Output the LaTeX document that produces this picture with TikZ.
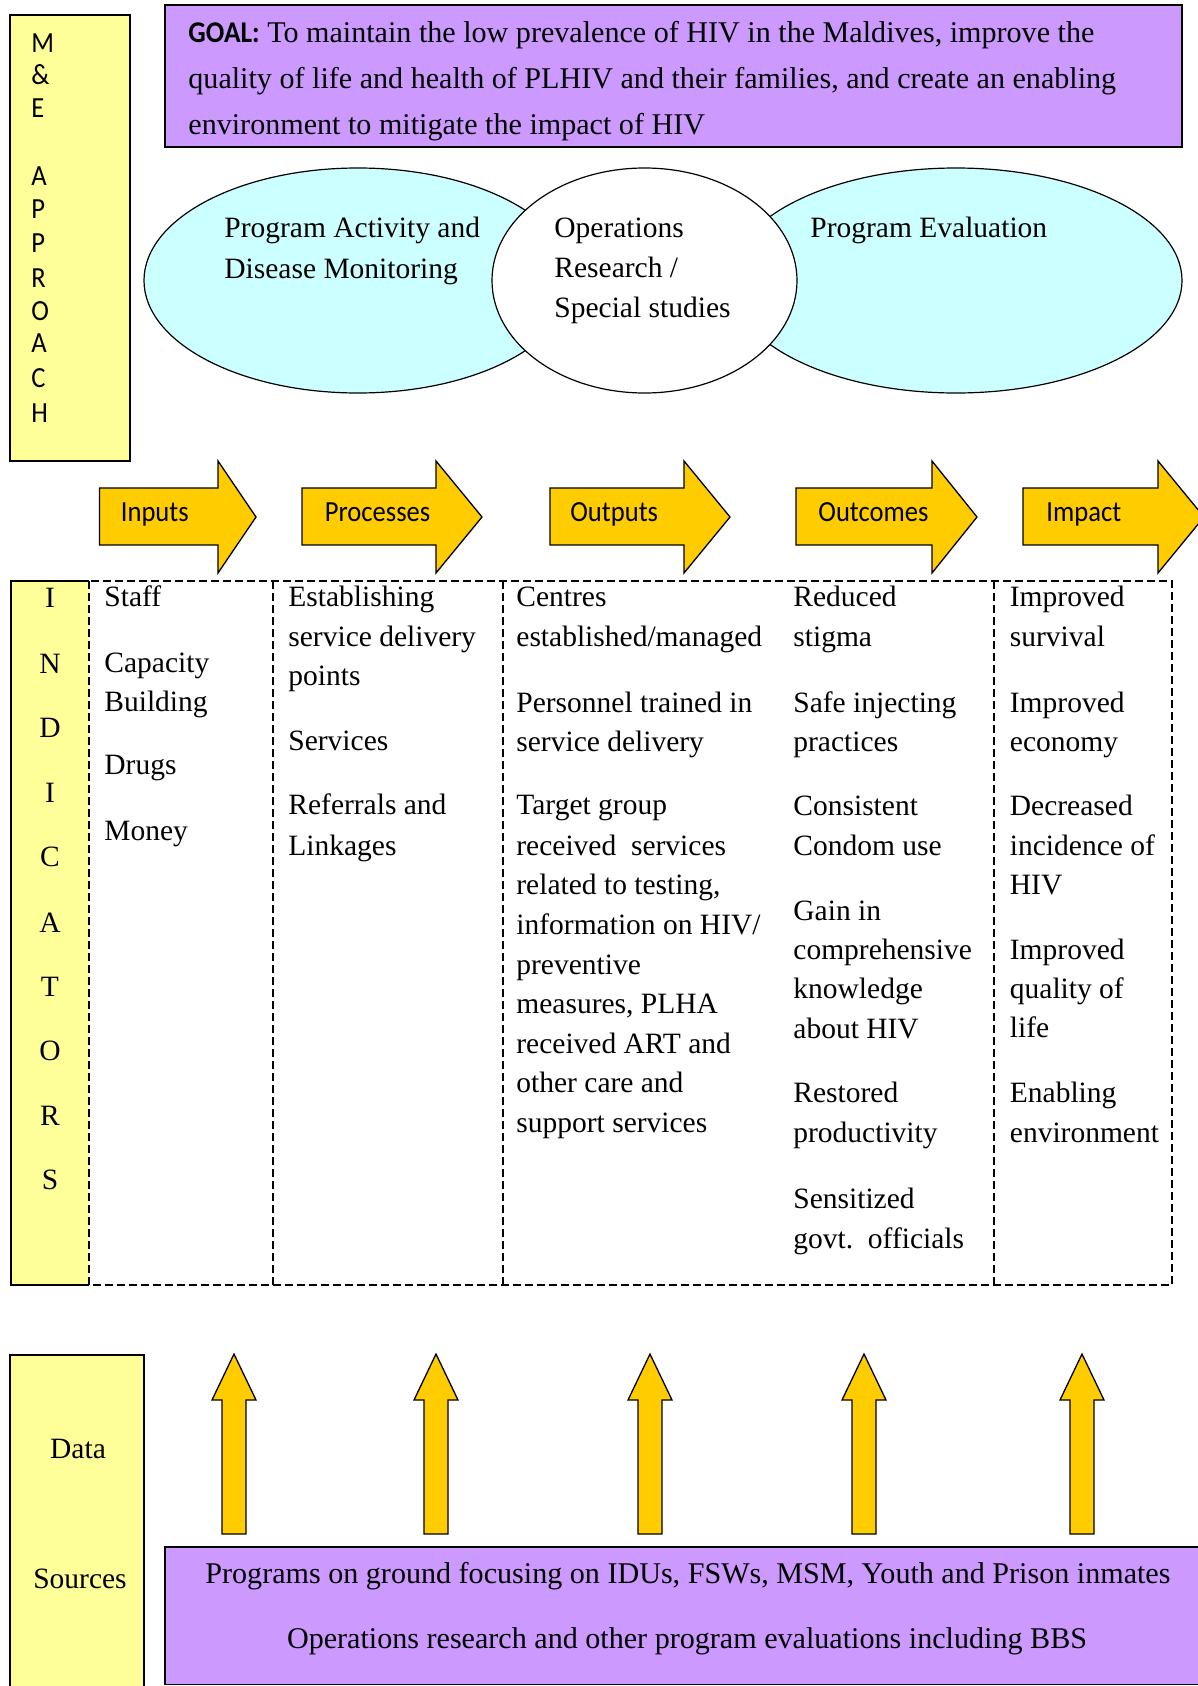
\documentclass[tikz,border=0pt]{standalone}
\usepackage{fontspec}
\setmainfont{Liberation Serif}
\newfontfamily\calib[FakeStretch=0.91]{Carlito}
\definecolor{goalpurple}{HTML}{CC99FF}
\definecolor{ellcyan}{HTML}{CCFFFF}
\definecolor{paleyellow}{HTML}{FFFF99}
\definecolor{arrowgold}{HTML}{FFCC00}
\tikzset{
  serif/.style={font=\fontsize{14.75}{18}\selectfont, inner sep=0pt},
  txt/.style={serif, anchor=base west},
  ctxt/.style={serif, anchor=base},
  widetxt/.style={font=\fontsize{15.05}{18}\selectfont, inner sep=0pt},
  sans/.style={font=\calib\fontsize{14.6}{18}\selectfont, inner sep=0pt, anchor=base west},
  blockarrow/.style={fill=arrowgold, draw=black, line width=0.65pt, line join=miter},
  solidbox/.style={draw=black, line width=0.75pt},
  dashline/.style={draw=black, line width=0.6pt, dash pattern=on 4pt off 2pt},
  ell/.style={draw=black, line width=0.6pt}
}
\begin{document}
\begin{tikzpicture}[x=0.5pt,y=-0.5pt]
\useasboundingbox (0,0) rectangle (1198,1686);
\clip (0,0) rectangle (1198,1686);
\fill[white] (0,0) rectangle (1198,1686);

% ---------- M&E APPROACH box ----------
\draw[solidbox, fill=paleyellow] (10,15) rectangle (130,461);
\foreach \y/\t [count=\i] in {53/M,85/\&,118/E,185/A,218/P,252/P,287/R,320/O,352/A,387/C,422/H}
  \node[sans] (me\i) at (31,\y) {\t};

% ---------- GOAL box ----------
\draw[line width=0.9pt, fill=goalpurple] (165,5) rectangle (1182,147);
\node[widetxt, anchor=base west] (goal1) at (188,43) {{\calib\bfseries GOAL:} To maintain the low prevalence of HIV in the Maldives, improve the};
\node[widetxt, anchor=base west] (goal2) at (188,88.5) {quality of life and health of PLHIV and their families, and create an enabling};
\node[widetxt, anchor=base west] (goal3) at (188,134) {environment to mitigate the impact of HIV};

% ---------- Ellipses ----------
\draw[ell, fill=ellcyan] (358,280.5) ellipse [x radius=214, y radius=112.5];
\draw[ell, fill=ellcyan] (956,280.5) ellipse [x radius=226, y radius=112.5];
\draw[ell, fill=white] (644.5,280.5) ellipse [x radius=152.5, y radius=112.5];
\node[txt] (pa1) at (224,237) {Program Activity and};
\node[txt] (pa2) at (224,278) {Disease Monitoring};
\node[txt] (or1) at (554,237) {Operations};
\node[txt] (or2) at (554,277) {Research /};
\node[txt] (or3) at (554,317) {Special studies};
\node[txt] (pe1) at (810,237) {Program Evaluation};

% ---------- Horizontal block arrows ----------
\foreach \a/\b/\c/\lab/\lx/\nm in {99.5/218/256/Inputs/120.5/inputs,
    302/436/482/Processes/324.5/processes,
    550/684/730/Outputs/570/outputs,
    796/932/977/Outcomes/818/outcomes,
    1023/1158/1204/Impact/1046/impact}{
  \draw[blockarrow] (\a,488) -- (\b,488) -- (\b,461) -- (\c,517) -- (\b,573) -- (\b,545) -- (\a,545) -- cycle;
  \node[sans] (\nm) at (\lx,521.5) {\lab};
}

% ---------- INDICATORS ----------
\fill[paleyellow] (11,581) rectangle (89,1285);
\draw[solidbox] (89,581) -- (11,581) -- (11,1285) -- (89,1285);
\draw[dashline] (89,581) rectangle (1172,1285);
\draw[dashline] (89,581) -- (89,1285);
\draw[dashline] (273,581) -- (273,1285);
\draw[dashline] (503,581) -- (503,1285);
\draw[dashline] (994,581) -- (994,1285);
\foreach \y/\t [count=\i] in {607/I,673/N,737/D,802/I,866/C,932/A,996/T,1060/O,1125/R,1189/S}
  \node[ctxt] (ind\i) at (50,\y) {\t};

% Inputs column
\foreach \y/\t [count=\i] in {606/{Staff},672/{Capacity},711/{Building},774/{Drugs},840/{Money}}
  \node[txt] (cin\i) at (104,\y) {\t};
% Processes column
\foreach \y/\t [count=\i] in {606/{Establishing},646/{service delivery},685/{points},750/{Services},814/{Referrals and},855/{Linkages}}
  \node[txt] (cpr\i) at (288,\y) {\t};
% Outputs column
\foreach \y/\t [count=\i] in {606/{Centres},646/{established/managed},712/{Personnel trained in},751/{service delivery},
    814/{Target group},855/{received\ \ services},894/{related to testing,},934/{information on HIV/},974/{preventive},
    1013/{measures, PLHA},1053/{received ART and},1092/{other care and},1132/{support services}}
  \node[txt] (cou\i) at (516,\y) {\t};
% Outcomes column
\foreach \y/\t [count=\i] in {606/{Reduced},646/{stigma},712/{Safe injecting},751/{practices},815/{Consistent},855/{Condom use},
    920/{Gain in},959/{comprehensive},998/{knowledge},1038/{about HIV},1102/{Restored},1142/{productivity},
    1208/{Sensitized},1248/{govt.\ \ officials}}
  \node[txt] (coc\i) at (793,\y) {\t};
% Impact column
\foreach \y/\t [count=\i] in {606/{Improved},646/{survival},712/{Improved},751/{economy},815/{Decreased},855/{incidence of},
    894/{HIV},959/{Improved},998/{quality of},1037/{life},1102/{Enabling},1142/{environment}}
  \node[txt] (cim\i) at (1009.5,\y) {\t};

% ---------- Vertical block arrows ----------
\foreach \c in {234,436,650,864,1082}
  \draw[blockarrow] ({\c-12},1534) -- ({\c-12},1400) -- ({\c-22},1400) -- (\c,1354) -- ({\c+22},1400) -- ({\c+12},1400) -- ({\c+12},1534) -- cycle;

% ---------- Data Sources ----------
\draw[solidbox, fill=paleyellow] (10,1692) -- (10,1355) -- (144,1355) -- (144,1692);
\node[ctxt] (data) at (78,1458) {Data};
\node[ctxt] (sources) at (80,1588) {Sources};

\draw[solidbox, line width=0.85pt, fill=goalpurple] (1205,1547) -- (165,1547) -- (165,1684.5) -- (1205,1684.5);
\node[widetxt, anchor=base] (src1) at (688,1583) {Programs on ground focusing on IDUs, FSWs, MSM, Youth and Prison inmates};
\node[widetxt, anchor=base] (src2) at (687,1648) {Operations research and other program evaluations including BBS};
\end{tikzpicture}
\end{document}
